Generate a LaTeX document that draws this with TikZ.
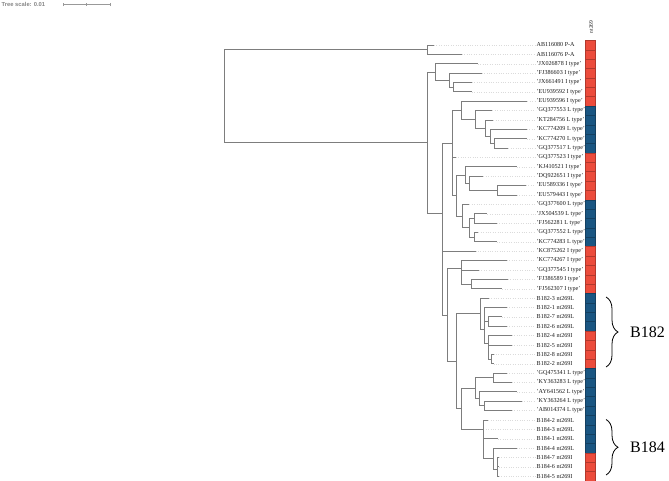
\documentclass[tikz,border=0pt]{standalone}
\usepackage{fontspec}
\setmainfont{Liberation Serif}
\newfontfamily\scalefam{Liberation Sans}
\usetikzlibrary{decorations.pathreplacing,calc}
\definecolor{cellred}{RGB}{236,76,60}
\definecolor{cellblue}{RGB}{26,86,130}
\definecolor{treegray}{RGB}{125,125,125}
\newcommand\yy[1]{45+(#1-1)*9.375}
\begin{document}
\begin{tikzpicture}[x=1pt,y=-1pt,
  branch/.style={draw=treegray,line width=0.9pt},
  leader/.style={draw=gray!28,dotted,line width=0.4pt},
  leaflabel/.style={anchor=west,inner sep=0pt,font=\fontsize{6.1}{7}\selectfont,text=black!90},
  cellI/.style={fill=cellred,draw=cellred!75!black,line width=0.25pt,minimum width=10pt,minimum height=9.375pt,inner sep=0pt},
  cellL/.style={fill=cellblue,draw=cellblue!75!black,line width=0.25pt,minimum width=10pt,minimum height=9.375pt,inner sep=0pt},
  grpbrace/.style={decorate,decoration={brace,amplitude=12pt},line width=0.8pt},
  grplabel/.style={anchor=west,inner sep=0pt,font=\fontsize{16}{18}\selectfont}
]
\useasboundingbox (0,0) rectangle (669,481);
% fractional leaf positions of internal nodes (midpoint of first and last child)
\pgfmathsetmacro\zzD{5.5}
\pgfmathsetmacro\zzC{(4+\zzD)/2}
\pgfmathsetmacro\zzB{(3+\zzC)/2}
\pgfmathsetmacro\zzLq{11.5}
\pgfmathsetmacro\zzK{(10+\zzLq)/2}
\pgfmathsetmacro\zzJ{(9+\zzK)/2}
\pgfmathsetmacro\zzI{(8+\zzJ)/2}
\pgfmathsetmacro\zzH{(7+\zzI)/2}
\pgfmathsetmacro\zzP{16.5}
\pgfmathsetmacro\zzO{(15+\zzP)/2}
\pgfmathsetmacro\zzN{(14+\zzO)/2}
\pgfmathsetmacro\zzS{19.5}
\pgfmathsetmacro\zzT{21.5}
\pgfmathsetmacro\zzR{(\zzS+\zzT)/2}
\pgfmathsetmacro\zzQ{(18+\zzR)/2}
\pgfmathsetmacro\zzM{(\zzN+\zzQ)/2}
\pgfmathsetmacro\zzY{(13+\zzM)/2}
\pgfmathsetmacro\zzG{(\zzH+\zzY)/2}
\pgfmathsetmacro\zzV{26.5}
\pgfmathsetmacro\zzW{(25+\zzV)/2}
\pgfmathsetmacro\zzU{(24+\zzW)/2}
\pgfmathsetmacro\zzDD{30.5}
\pgfmathsetmacro\zzBBa{(29+\zzDD)/2}
\pgfmathsetmacro\zzEE{34.5}
\pgfmathsetmacro\zzCCb{(33+\zzEE)/2}
\pgfmathsetmacro\zzCC{(32+\zzCCb)/2}
\pgfmathsetmacro\zzBB{(\zzBBa+\zzCC)/2}
\pgfmathsetmacro\zzAA{(28+\zzBB)/2}
\pgfmathsetmacro\zzHH{36.5}
\pgfmathsetmacro\zzJJ{39.5}
\pgfmathsetmacro\zzII{(38+\zzJJ)/2}
\pgfmathsetmacro\zzGG{(\zzHH+\zzII)/2}
\pgfmathsetmacro\zzMMb{45.5}
\pgfmathsetmacro\zzMM{(\zzMMb+47)/2}
\pgfmathsetmacro\zzLL{(44+\zzMM)/2}
\pgfmathsetmacro\zzKKc{(43+\zzLL)/2}
\pgfmathsetmacro\zzKKb{(42+\zzKKc)/2}
\pgfmathsetmacro\zzKK{(41+\zzKKb)/2}
\pgfmathsetmacro\zzFF{(\zzGG+\zzKK)/2}
\pgfmathsetmacro\zzZ{(\zzAA+\zzFF)/2}
\pgfmathsetmacro\zzF{(\zzU+\zzZ)/2}
\pgfmathsetmacro\zzX{(23+\zzF)/2}
\pgfmathsetmacro\zzE{(\zzG+\zzX)/2}
\pgfmathsetmacro\zzA{(\zzB+\zzE)/2}
\pgfmathsetmacro\zzTop{1.5}
\pgfmathsetmacro\zzRoot{(\zzTop+\zzA)/2}
% internal nodes
\coordinate (root) at (224.3,{\yy{\zzRoot}});
\coordinate (T1) at (427.7,{\yy{\zzTop}});
\coordinate (A) at (427.7,{\yy{\zzA}});
\coordinate (B) at (435.7,{\yy{\zzB}});
\coordinate (C) at (449,{\yy{\zzC}});
\coordinate (D) at (453.3,{\yy{\zzD}});
\coordinate (E) at (442.3,{\yy{\zzE}});
\coordinate (G) at (452.3,{\yy{\zzG}});
\coordinate (H) at (461.7,{\yy{\zzH}});
\coordinate (I) at (475,{\yy{\zzI}});
\coordinate (J) at (485.7,{\yy{\zzJ}});
\coordinate (K) at (490,{\yy{\zzK}});
\coordinate (Lq) at (494.3,{\yy{\zzLq}});
\coordinate (Y) at (452.3,{\yy{\zzY}});
\coordinate (M) at (456.7,{\yy{\zzM}});
\coordinate (N) at (465.5,{\yy{\zzN}});
\coordinate (O) at (469.3,{\yy{\zzO}});
\coordinate (P) at (497,{\yy{\zzP}});
\coordinate (Q) at (462.3,{\yy{\zzQ}});
\coordinate (R) at (469.3,{\yy{\zzR}});
\coordinate (S) at (474,{\yy{\zzS}});
\coordinate (T) at (474,{\yy{\zzT}});
\coordinate (X) at (442.3,{\yy{\zzX}});
\coordinate (F) at (447,{\yy{\zzF}});
\coordinate (U) at (461,{\yy{\zzU}});
\coordinate (W) at (461,{\yy{\zzW}});
\coordinate (V) at (471,{\yy{\zzV}});
\coordinate (Z) at (456.3,{\yy{\zzZ}});
\coordinate (AA) at (480,{\yy{\zzAA}});
\coordinate (BB) at (484,{\yy{\zzBB}});
\coordinate (BBa) at (484,{\yy{\zzBBa}});
\coordinate (DD) at (488.5,{\yy{\zzDD}});
\coordinate (CC) at (488.5,{\yy{\zzCC}});
\coordinate (CCb) at (488.5,{\yy{\zzCCb}});
\coordinate (EE) at (491.5,{\yy{\zzEE}});
\coordinate (FF) at (461,{\yy{\zzFF}});
\coordinate (GG) at (475.5,{\yy{\zzGG}});
\coordinate (HH) at (493,{\yy{\zzHH}});
\coordinate (II) at (479.3,{\yy{\zzII}});
\coordinate (JJ) at (484.3,{\yy{\zzJJ}});
\coordinate (KK) at (483.3,{\yy{\zzKK}});
\coordinate (KKb) at (483.3,{\yy{\zzKKb}});
\coordinate (KKc) at (483.3,{\yy{\zzKKc}});
\coordinate (LL) at (493.3,{\yy{\zzLL}});
\coordinate (MM) at (497,{\yy{\zzMM}});
\coordinate (MMb) at (497,{\yy{\zzMMb}});
% leaves, labels, leaders and colour strip
\foreach \i/\tx/\lab/\ty in {
 1/434/AB116080 P-A/I,
 2/461.7/AB116076 P-A/I,
 3/477.7/'JX026878 I type'/I,
 4/481.7/'FJ386603 I type'/I,
 5/471.7/'JX661491 I type'/I,
 6/471.7/'EU939592 I type'/I,
 7/527.3/'EU939596 I type'/I,
 8/492.3/'GQ377553 L type'/L,
 9/493.3/'KT284756 L type'/L,
 10/527/'KC774209 L type'/L,
 11/527/'KC774270 L type'/L,
 12/508.3/'GQ377517 L type'/L,
 13/455.7/'GQ377523 I type'/I,
 14/516.7/'KJ410521 I type'/I,
 15/483.3/'DQ922651 I type'/I,
 16/526/'EU589336 I type'/I,
 17/516.7/'EU579443 I type'/I,
 18/469.3/'GQ377600 L type'/L,
 19/487.3/'JX504539 L type'/L,
 20/496.7/'FJ562281 L type'/L,
 21/478.3/'GQ377552 L type'/L,
 22/496.7/'KC774283 L type'/L,
 23/475.5/'KC875262 I type'/I,
 24/506.7/'KC774267 I type'/I,
 25/479/'GQ377545 I type'/I,
 26/507.7/'FJ386589 I type'/I,
 27/502.3/'FJ562307 I type'/I,
 28/488.7/B182-3 nt269L/L,
 29/507/B182-1 nt269L/L,
 30/502/B182-7 nt269L/L,
 31/507/B182-6 nt269L/L,
 32/511.7/B182-4 nt269I/I,
 33/511.7/B182-5 nt269I/I,
 34/493.5/B182-8 nt269I/I,
 35/493.5/B182-2 nt269I/I,
 36/507/'GQ475341 L type'/L,
 37/512/'KY363283 L type'/L,
 38/516.7/'AY641562 L type'/L,
 39/521.7/'KY363264 L type'/L,
 40/512/'AB014374 L type'/L,
 41/488.3/B184-2 nt269L/L,
 42/483.3/B184-3 nt269L/L,
 43/497.7/B184-1 nt269L/L,
 44/516.5/B184-4 nt269L/L,
 45/499/B184-7 nt269I/I,
 46/499/B184-6 nt269I/I,
 47/499/B184-5 nt269I/I}{
  \coordinate (L\i) at (\tx,{\yy{\i}});
  \node[leaflabel] (lab\i) at (536.5,{\yy{\i}}) {\lab};
  \draw[leader] (L\i) -- ([xshift=-1pt]lab\i.west);
  \node[cell\ty] (cell\i) at (590.5,{\yy{\i}}) {};
}
% branches
\foreach \p/\c in {root/T1,root/A,T1/L1,T1/L2,A/B,A/E,B/L3,B/C,C/L4,C/D,D/L5,D/L6,
  E/G,E/X,G/H,G/Y,H/L7,H/I,I/L8,I/J,J/L9,J/K,K/L10,K/Lq,Lq/L11,Lq/L12,
  Y/L13,Y/M,M/N,M/Q,N/L14,N/O,O/L15,O/P,P/L16,P/L17,Q/L18,Q/R,R/S,R/T,
  S/L19,S/L20,T/L21,T/L22,X/L23,X/F,F/U,F/Z,U/L24,U/W,W/L25,W/V,V/L26,V/L27,
  Z/AA,Z/FF,AA/L28,AA/BB,BB/BBa,BB/CC,BBa/L29,BBa/DD,DD/L30,DD/L31,
  CC/L32,CC/CCb,CCb/L33,CCb/EE,EE/L34,EE/L35,
  FF/GG,FF/KK,GG/HH,GG/II,HH/L36,HH/L37,II/L38,II/JJ,JJ/L39,JJ/L40,
  KK/L41,KK/KKb,KKb/L42,KKb/KKc,KKc/L43,KKc/LL,LL/L44,LL/MM,MM/MMb,MM/L47,MMb/L45,MMb/L46}{
  \draw[branch] (\p) |- (\c);
}
% column header
\node[rotate=90,inner sep=0pt,font=\fontsize{5.5}{6}\selectfont,text=black!90] (hdr) at (591,27) {nt269};
% tree scale
\node[anchor=west,inner sep=0pt,text=gray!95,font={\scalefam\bfseries\fontsize{5.8}{6.5}\selectfont}] (ts) at (1.5,4.5) {Tree scale: 0.01};
\coordinate (sb1) at (63,4.5);
\coordinate (sbm) at (86.5,4.5);
\coordinate (sb2) at (110,4.5);
\draw[gray!80,line width=0.6pt] (sb1) -- (sb2);
\draw[gray!80,line width=0.6pt] ([yshift=-1.6pt]sb1) -- ([yshift=1.6pt]sb1);
\draw[gray!80,line width=0.6pt] ([yshift=-1.2pt]sbm) -- ([yshift=1.2pt]sbm);
\draw[gray!80,line width=0.6pt] ([yshift=-1.6pt]sb2) -- ([yshift=1.6pt]sb2);
% group braces
\coordinate (b1t) at (606,297);
\coordinate (b1b) at (606,367);
\coordinate (b2t) at (606,419.5);
\coordinate (b2b) at (606,475);
\draw[grpbrace] (b1t) -- (b1b);
\draw[grpbrace] (b2t) -- (b2b);
\node[grplabel] (g1) at (630,332) {B182};
\node[grplabel] (g2) at (630,447.3) {B184};
\end{tikzpicture}
\end{document}
